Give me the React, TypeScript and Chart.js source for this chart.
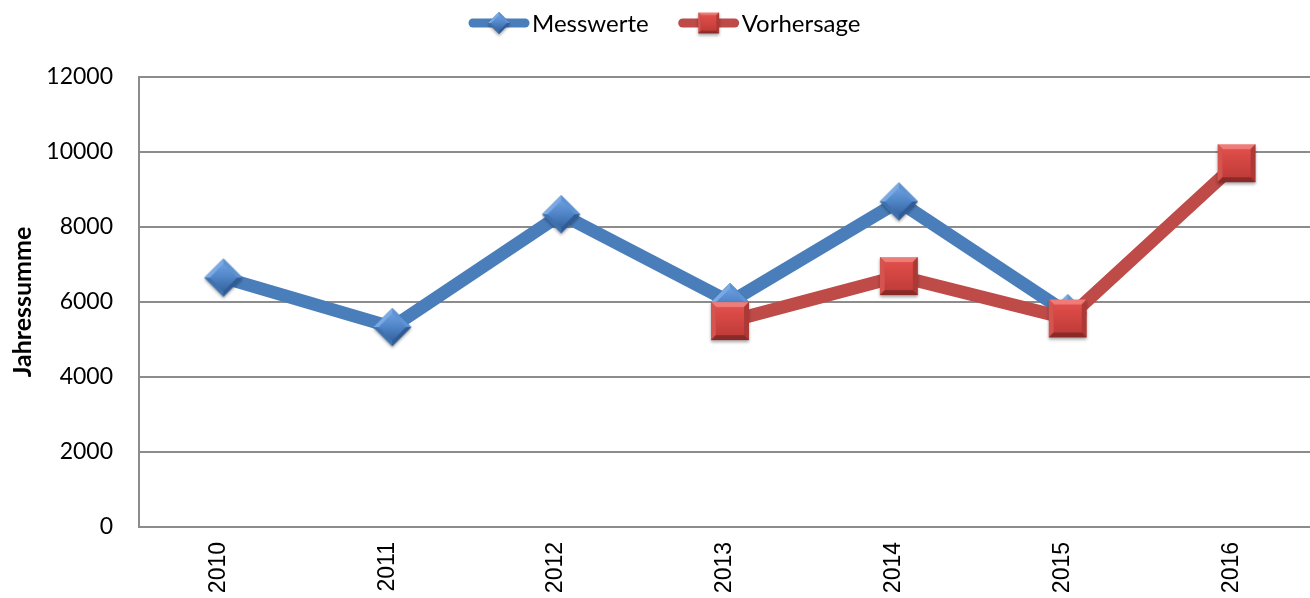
import React, { useEffect, useRef } from "react";
import { Chart, registerables } from "chart.js";

Chart.register(...registerables);

// ---- data ----
const years: string[] = ["2010", "2011", "2012", "2013", "2014", "2015", "2016"];
const messwerte: (number | null)[] = [6650, 5330, 8340, 6000, 8680, 5700, null];
const vorhersage: (number | null)[] = [null, null, null, 5490, 6690, 5560, 9700];
const seriesNames: string[] = ["Messwerte", "Vorhersage"];
const yTitle = "Jahressumme";
const yMin = 0;
const yMax = 12000;
const yStep = 2000;

// ---- styles ----
const BLUE = "#4A7EBB";
const RED = "#BE4B48";
const GRID = "#8c8c8c";
const FONT = "Lato, 'Open Sans', sans-serif";

function makeDiamond(r: number): HTMLCanvasElement {
  const pad = 5;
  const s = Math.ceil(2 * r + pad * 2);
  const c = document.createElement("canvas");
  c.width = s;
  c.height = s;
  const g = c.getContext("2d")!;
  const cx = s / 2;
  const cy = s / 2;
  const T = [cx, cy - r], R = [cx + r, cy], B = [cx, cy + r], L = [cx - r, cy], C = [cx, cy];
  g.save();
  g.shadowColor = "rgba(0,0,0,0.35)";
  g.shadowBlur = 3;
  g.shadowOffsetY = 2;
  g.beginPath();
  g.moveTo(T[0], T[1]); g.lineTo(R[0], R[1]); g.lineTo(B[0], B[1]); g.lineTo(L[0], L[1]);
  g.closePath();
  g.fillStyle = "#3d6fae";
  g.fill();
  g.restore();
  const tri = (a: number[], b: number[], d: number[], col: string) => {
    g.beginPath(); g.moveTo(a[0], a[1]); g.lineTo(b[0], b[1]); g.lineTo(d[0], d[1]); g.closePath();
    g.fillStyle = col; g.fill();
  };
  tri(T, L, C, "#7aaae4");
  tri(T, R, C, "#5d92d3");
  tri(L, B, C, "#3f71af");
  tri(R, B, C, "#2f5c96");
  const ir = r * 0.72;
  const grad = g.createLinearGradient(0, cy - ir, 0, cy + ir);
  grad.addColorStop(0, "#6c9fe0");
  grad.addColorStop(0.5, "#4f84c6");
  grad.addColorStop(1, "#3764a0");
  g.beginPath();
  g.moveTo(cx, cy - ir); g.lineTo(cx + ir, cy); g.lineTo(cx, cy + ir); g.lineTo(cx - ir, cy);
  g.closePath();
  g.fillStyle = grad;
  g.fill();
  return c;
}

function makeSquare(side: number): HTMLCanvasElement {
  const pad = 5;
  const s = Math.ceil(side + pad * 2);
  const c = document.createElement("canvas");
  c.width = s;
  c.height = s;
  const g = c.getContext("2d")!;
  const x0 = (s - side) / 2, y0 = (s - side) / 2, x1 = x0 + side, y1 = y0 + side;
  const b = Math.max(2, side * 0.13);
  g.save();
  g.shadowColor = "rgba(0,0,0,0.35)";
  g.shadowBlur = 3;
  g.shadowOffsetY = 2;
  g.fillStyle = "#a83532";
  g.fillRect(x0, y0, side, side);
  g.restore();
  const poly = (pts: number[][], col: string) => {
    g.beginPath();
    g.moveTo(pts[0][0], pts[0][1]);
    for (let i = 1; i < pts.length; i++) g.lineTo(pts[i][0], pts[i][1]);
    g.closePath();
    g.fillStyle = col;
    g.fill();
  };
  poly([[x0, y0], [x1, y0], [x1 - b, y0 + b], [x0 + b, y0 + b]], "#ee7c78");
  poly([[x0, y0], [x0 + b, y0 + b], [x0 + b, y1 - b], [x0, y1]], "#d45450");
  poly([[x1, y0], [x1, y1], [x1 - b, y1 - b], [x1 - b, y0 + b]], "#ad3936");
  poly([[x0, y1], [x0 + b, y1 - b], [x1 - b, y1 - b], [x1, y1]], "#8a2a28");
  const grad = g.createLinearGradient(0, y0 + b, 0, y1 - b);
  grad.addColorStop(0, "#e04e4a");
  grad.addColorStop(1, "#c13c39");
  g.fillStyle = grad;
  g.fillRect(x0 + b, y0 + b, side - 2 * b, side - 2 * b);
  return c;
}

export default function App() {
  const ref = useRef<HTMLCanvasElement | null>(null);

  useEffect(() => {
    document.body.style.margin = "0";
    document.body.style.overflow = "hidden";
    const canvas = ref.current;
    if (!canvas) return;

    const diamond = makeDiamond(19);
    const square = makeSquare(38);
    const legendImgs = [makeDiamond(11), makeSquare(21)];
    const colors = [BLUE, RED];

    const legendPlugin = {
      id: "lineLegend",
      afterDraw(chart: any) {
        const ctx = chart.ctx as CanvasRenderingContext2D;
        ctx.save();
        ctx.font = `24px ${FONT}`;
        const lineLen = 60;
        const textGap = 3;
        const itemGap = 30;
        const labels = chart.data.datasets.map((d: any) => d.label as string);
        const widths = labels.map((l: string) => lineLen + textGap + ctx.measureText(l).width);
        const total = widths.reduce((a: number, b: number) => a + b, 0) + itemGap * (labels.length - 1);
        let x = Math.round(665 - total / 2);
        const y = 23;
        labels.forEach((l: string, i: number) => {
          ctx.strokeStyle = colors[i];
          ctx.lineWidth = 9;
          ctx.lineCap = "round";
          ctx.beginPath();
          ctx.moveTo(x + 4, y);
          ctx.lineTo(x + lineLen - 4, y);
          ctx.stroke();
          const img = legendImgs[i];
          ctx.drawImage(img, x + lineLen / 2 - img.width / 2, y - img.height / 2);
          ctx.fillStyle = "#000";
          ctx.textBaseline = "middle";
          ctx.textAlign = "left";
          ctx.fillText(l, x + lineLen + textGap, y + 1);
          x += widths[i] + itemGap;
        });
        ctx.restore();
      },
    };

    const chart = new Chart(canvas, {
      type: "line",
      data: {
        labels: years,
        datasets: [
          {
            label: seriesNames[0],
            data: messwerte,
            borderColor: BLUE,
            backgroundColor: BLUE,
            borderWidth: 13,
            pointStyle: diamond as any,
            pointRadius: 19,
            order: 1,
            spanGaps: false,
          },
          {
            label: seriesNames[1],
            data: vorhersage,
            borderColor: RED,
            backgroundColor: RED,
            borderWidth: 13,
            pointStyle: square as any,
            pointRadius: 19,
            order: 0,
            spanGaps: false,
          },
        ],
      },
      options: {
        responsive: false,
        animation: false,
        layout: { autoPadding: false, padding: { top: 77, right: 1, left: 0, bottom: 0 } },
        plugins: {
          legend: { display: false },
          tooltip: { enabled: false },
        },
        scales: {
          x: {
            offset: true,
            grid: { display: false, drawTicks: false },
            border: { display: true, color: GRID, width: 2 },
            ticks: {
              minRotation: 90,
              maxRotation: 90,
              color: "#000",
              padding: 15,
              labelOffset: -5,
              autoSkip: false,
              font: { family: "'Liberation Sans', Arial, sans-serif", size: 23 },
            },
            afterFit: (s: any) => {
              s.height = 71;
              s.paddingLeft = 0;
              s.paddingRight = 0;
            },
          },
          y: {
            min: yMin,
            max: yMax,
            ticks: {
              stepSize: yStep,
              color: "#000",
              padding: 26,
              font: { family: FONT, size: 23 },
              callback: (v: any) => String(v),
            },
            grid: { color: GRID, lineWidth: 2, drawTicks: false },
            border: { display: true, color: GRID, width: 2 },
            title: {
              display: true,
              text: yTitle,
              color: "#000",
              padding: { top: 8, bottom: 0 },
              font: { family: FONT, size: 25, weight: "bold" },
            },
            afterFit: (s: any) => {
              s.width = 139;
              s.paddingTop = 0;
              s.paddingBottom = 0;
            },
          },
        },
      },
      plugins: [legendPlugin],
    });

    return () => chart.destroy();
  }, []);

  return (
    <div style={{ width: 1310, height: 598, overflow: "hidden", position: "relative" }}>
      <canvas ref={ref} width={1322} height={598} style={{ display: "block" }} />
    </div>
  );
}
